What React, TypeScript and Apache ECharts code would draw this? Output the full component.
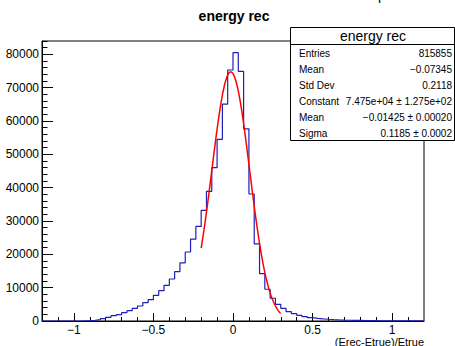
import React, { useEffect, useRef } from "react";
import * as echarts from "echarts";

const TITLE = "energy rec";
const X_TITLE = "(Erec-Etrue)/Etrue";
const X_MIN = -1.2;
const X_MAX = 1.2;
const Y_MIN = 0;
const Y_MAX = 84000;

// 72 bins from -1.2 to 1.2
const BIN_COUNTS = [
  0, 0, 0, 0, 0, 0, 0, 30, 80, 200, 400, 700, 1100, 1600, 1900, 2500, 3100, 3800,
  4500, 5500, 6400, 7700, 9100, 10700, 12600, 14800, 17450, 20700, 24560, 28360,
  33200, 38900, 46000, 54500, 65050, 75300, 80500, 74900, 57650, 38100, 23150,
  14200, 9530, 6830, 5010, 3800, 2800, 2200, 1700, 1300, 1000, 800, 650, 520, 420,
  340, 280, 230, 190, 160, 130, 110, 90, 75, 60, 50, 40, 35, 30, 25, 20, 15,
];

const X_MAJOR_TICKS = [-1, -0.5, 0, 0.5, 1];
const X_MINOR_TICKS = [
  -1.1, -1.0, -0.9, -0.8, -0.7, -0.6, -0.5, -0.4, -0.3, -0.2, -0.1, 0, 0.1, 0.2,
  0.3, 0.4, 0.5, 0.6, 0.7, 0.8, 0.9, 1.0, 1.1,
];
const Y_MAJOR_TICKS = [0, 10000, 20000, 30000, 40000, 50000, 60000, 70000, 80000];
const Y_MINOR_STEP = 2000;

const STAT_LABELS = ["Entries", "Mean", "Std Dev", "Constant", "Mean", "Sigma"];
const STAT_VALUES = [
  "815855",
  "\u22120.07345",
  "0.2118",
  "7.475e+04 \u00b1 1.275e+02",
  "\u22120.01425 \u00b1 0.00020",
  "0.1185 \u00b1 0.0002",
];

// Gaussian fit parameters (from stats box)
const FIT_CONSTANT = 74750;
const FIT_MEAN = -0.01425;
const FIT_SIGMA = 0.1185;
const FIT_RANGE = [-0.2, 0.3];
const FIT_SAMPLES = 150;

const FONT = "Liberation Sans, Arial, Helvetica, sans-serif";

function fmt(v: number): string {
  return String(v).replace("-", "\u2212");
}

export default function App() {
  const ref = useRef<HTMLDivElement>(null);

  useEffect(() => {
    if (!ref.current) return;
    const chart = echarts.init(ref.current, undefined, { renderer: "svg" });

    const w = (X_MAX - X_MIN) / BIN_COUNTS.length;
    const histData: number[][] = BIN_COUNTS.map((c, i) => [X_MIN + i * w, c]);
    histData.push([X_MAX, BIN_COUNTS[BIN_COUNTS.length - 1]]);

    const fitData: number[][] = [];
    for (let i = 0; i <= FIT_SAMPLES; i++) {
      const x = FIT_RANGE[0] + ((FIT_RANGE[1] - FIT_RANGE[0]) * i) / FIT_SAMPLES;
      const y = FIT_CONSTANT * Math.exp(-((x - FIT_MEAN) ** 2) / (2 * FIT_SIGMA * FIT_SIGMA));
      fitData.push([x, y]);
    }

    const rowY0 = 53;
    const rowDy = 16;
    const statTexts: any[] = [];
    STAT_LABELS.forEach((l, i) => {
      statTexts.push({
        type: "text",
        x: 299,
        y: rowY0 + i * rowDy,
        z: 101,
        style: { text: l, fill: "#000", font: `10px ${FONT}`, align: "left", verticalAlign: "middle" },
      });
      statTexts.push({
        type: "text",
        x: 452,
        y: rowY0 + i * rowDy,
        z: 101,
        style: { text: STAT_VALUES[i], fill: "#000", font: `10px ${FONT}`, align: "right", verticalAlign: "middle" },
      });
    });

    const option: any = {
      animation: false,
      grid: {
        left: 42,
        right: 31,
        top: 41,
        bottom: 25,
        show: true,
        borderColor: "#000",
        borderWidth: 1,
        backgroundColor: "transparent",
      },
      xAxis: [
        {
          type: "value",
          min: X_MIN,
          max: X_MAX,
          position: "bottom",
          axisLine: { show: true, onZero: false, lineStyle: { color: "#000", width: 1 } },
          axisTick: { show: true, inside: true, length: 4, customValues: X_MINOR_TICKS, lineStyle: { color: "#000" } },
          axisLabel: {
            show: true,
            customValues: X_MAJOR_TICKS,
            formatter: (v: number) => fmt(v),
            color: "#000",
            fontFamily: FONT,
            fontSize: 12,
            lineHeight: 12,
            margin: 3,
          },
          splitLine: { show: false },
        },
        {
          type: "value",
          min: X_MIN,
          max: X_MAX,
          position: "bottom",
          offset: 0,
          axisLine: { show: false, onZero: false },
          axisTick: { show: true, inside: true, length: 8, customValues: X_MAJOR_TICKS, lineStyle: { color: "#000" } },
          axisLabel: { show: false },
          splitLine: { show: false },
        },
      ],
      yAxis: [
        {
          type: "value",
          min: Y_MIN,
          max: Y_MAX,
          interval: Y_MINOR_STEP,
          position: "left",
          axisLine: { show: true, onZero: false, lineStyle: { color: "#000", width: 1 } },
          axisTick: { show: true, inside: true, length: 5.5, lineStyle: { color: "#000" } },
          axisLabel: {
            show: true,
            customValues: Y_MAJOR_TICKS,
            formatter: (v: number) => fmt(v),
            color: "#000",
            fontFamily: FONT,
            fontSize: 12,
            margin: 3,
          },
          splitLine: { show: false },
        },
        {
          type: "value",
          min: Y_MIN,
          max: Y_MAX,
          position: "left",
          offset: 0,
          axisLine: { show: false, onZero: false },
          axisTick: { show: true, inside: true, length: 11, customValues: Y_MAJOR_TICKS, lineStyle: { color: "#000" } },
          axisLabel: { show: false },
          splitLine: { show: false },
        },
      ],
      series: [
        {
          type: "line",
          xAxisIndex: 0,
          yAxisIndex: 0,
          data: histData,
          step: "end",
          showSymbol: false,
          symbol: "none",
          lineStyle: { color: "#1f1fb8", width: 1.2 },
          z: 2,
        },
        {
          type: "line",
          xAxisIndex: 0,
          yAxisIndex: 0,
          data: fitData,
          showSymbol: false,
          symbol: "none",
          smooth: false,
          lineStyle: { color: "#ff0000", width: 1.5 },
          z: 3,
        },
      ],
      graphic: [
        {
          type: "text",
          x: 382,
          y: -5,
          style: { text: "p", fill: "#000", font: `14px ${FONT}`, align: "center", verticalAlign: "middle" },
        },
        {
          type: "text",
          x: 234,
          y: 16,
          style: { text: TITLE, fill: "#000", font: `bold 14px ${FONT}`, align: "center", verticalAlign: "middle" },
        },
        {
          type: "text",
          x: 424,
          y: 341.5,
          style: { text: X_TITLE, fill: "#000", font: `11px ${FONT}`, lineHeight: 11, align: "right", verticalAlign: "middle" },
        },
        {
          type: "rect",
          z: 100,
          shape: { x: 290.5, y: 27.5, width: 164, height: 113 },
          style: { fill: "#fff", stroke: "#000", lineWidth: 1 },
        },
        {
          type: "line",
          z: 101,
          shape: { x1: 290.5, y1: 44.5, x2: 454.5, y2: 44.5 },
          style: { stroke: "#000", lineWidth: 1 },
        },
        {
          type: "text",
          x: 373,
          y: 35.5,
          z: 101,
          style: { text: TITLE, fill: "#000", font: `14px ${FONT}`, align: "center", verticalAlign: "middle" },
        },
        ...statTexts,
      ],
    };

    chart.setOption(option);
    return () => chart.dispose();
  }, []);

  return <div ref={ref} style={{ width: 455, height: 346, position: "absolute", left: 0, top: 0 }} />;
}
